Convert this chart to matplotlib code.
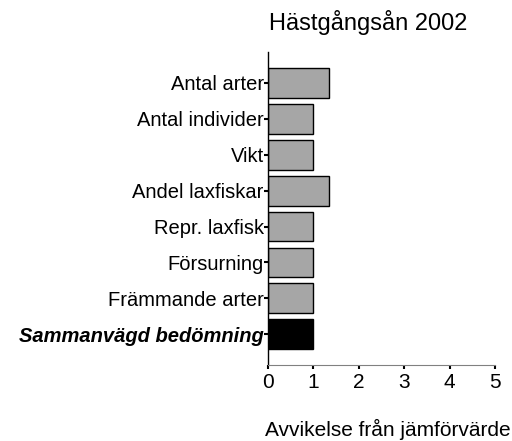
import matplotlib.pyplot as plt
import numpy as np

plt.rcParams['font.family'] = ['Liberation Sans', 'DejaVu Sans']

# DATA
kategorier = ['Antal arter', 'Antal individer', 'Vikt', 'Andel laxfiskar',
              'Repr. laxfisk', 'Försurning', 'Främmande arter',
              'Sammanvägd bedömning']
varden = [1.35, 1.0, 1.0, 1.35, 1.0, 1.0, 1.0, 1.0]
farger = ['#a6a6a6'] * 7 + ['#000000']
xticks = [0, 1, 2, 3, 4, 5]

fig = plt.figure(figsize=(5.12, 4.41), dpi=100)
ax = fig.add_axes([0.5234, 0.172, 0.4434, 0.71])

y = np.arange(len(kategorier))
ax.barh(y, varden, height=0.83, color=farger, edgecolor='black', linewidth=1)

ax.set_ylim(len(kategorier) - 1 + 0.86, -0.86)
ax.set_xlim(0, 5)
ax.set_xticks(xticks)
ax.set_xticklabels([str(t) for t in xticks], fontsize=15)
ax.set_yticks(y)
ax.set_yticklabels(kategorier, fontsize=14.5)
lbl = ax.get_yticklabels()[-1]
lbl.set_fontweight('bold')
lbl.set_fontstyle('italic')

ax.tick_params(axis='y', length=3, width=1.5, pad=0)
ax.tick_params(axis='x', length=3, width=1.5, pad=3)

for s in ['top', 'right']:
    ax.spines[s].set_visible(False)
ax.spines['bottom'].set_color('#808080')
ax.spines['left'].set_linewidth(1)

fig.text(0.526, 0.95, 'Hästgångsån 2002', fontsize=17, ha='left', va='center')
fig.text(0.998, 0.027, 'Avvikelse från jämförvärde', fontsize=15, ha='right', va='center')

fig.savefig('out.png', dpi=100)
